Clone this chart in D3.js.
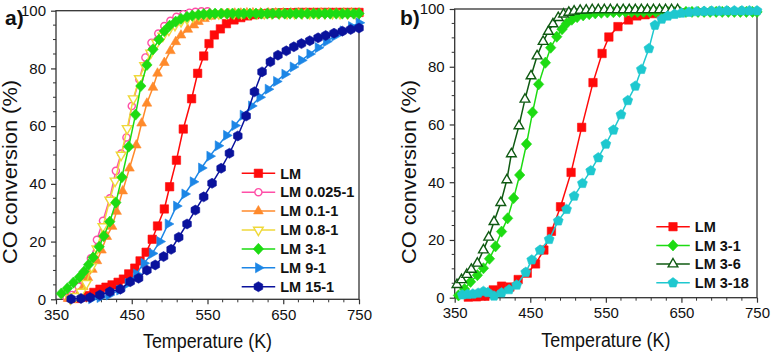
<!DOCTYPE html>
<html><head><meta charset="utf-8">
<script src="https://cdn.jsdelivr.net/npm/d3@7"></script>
<style>
body{margin:0;background:#fff}
svg{display:block}
text{font-family:"Liberation Sans",Arial,Helvetica,sans-serif;fill:#111}
</style>
</head><body>
<svg id="c" width="773" height="353"></svg>
<script>
// ---------- axis ticks ----------
const xTicks = [350, 450, 550, 650, 750];
const yTicks = [0, 20, 40, 60, 80, 100];

// ---------- panel a ----------
const lmA_T = [378,386,393,400,408,416,424,432,439,446,454,461,469,477,484,493,500,509,518,529,537,545,552,559,567,575,585,594,603,612,621,630,640,650,660,670,680,690,700,710,720,730,740,750];
const lmA_Y = [0.3,0.8,1.3,2.4,3.5,4.2,5.0,5.9,7.0,8.8,10.8,13.3,16.3,20.8,25.4,31.3,39.0,48.2,59.0,69.5,78.3,84.3,88.6,91.6,93.7,95.5,96.8,97.6,98.2,98.6,98.9,99.1,99.2,99.3,99.3,99.4,99.4,99.4,99.4,99.4,99.4,99.4,99.4,99.4];

const lm0025_T = [364,371,380,388,396,404,412,421,429,436,443,450,460,468,476,485,493,501,509,518,526,534,542,550];
const lm0025_Y = [0.5,1.5,4.4,8.4,14.2,20.6,27.2,35.0,44.5,50.5,56.1,67.0,76.2,83.8,88.9,92.1,94.7,96.5,97.9,98.8,99.3,99.6,99.8,99.8];

const lm01_T = [366,373,380,386,392,398,404,410,417,424,430,438,447,456,463,470,478,484,493,501,508,515,524,532,538,546,554,562,570,578,586,594,602,610,620,630,640,650,660,670,680,690,700,710,720,730,740,750];
const lm01_Y = [0.2,0.8,2.0,4.4,7.5,10.3,13.3,17.0,21.7,25.2,30.4,37.5,45.4,53.4,61.0,67.9,73.4,78.3,82.0,86.1,89.2,91.5,93.5,95.0,96.2,97.2,98.0,98.5,98.8,99.0,99.1,99.1,99.2,99.2,99.2,99.2,99.2,99.2,99.2,99.2,99.2,99.2,99.2,99.2,99.2,99.2,99.2,99.2];

const lm08_T = [369,376,383,390,397,404,412,421,428,436,444,452,460,467,475,483,491,499,507,515,523,531,539,547,555,565,575,585,595,605,615,625,635,645,655,665,675,685,695,705,715,725,735,745];
const lm08_Y = [0.2,1.0,2.5,5.5,11.3,17.5,25.2,34.4,41.0,50.0,59.2,69.5,76.5,81.0,85.3,88.8,91.2,93.3,95.0,96.3,97.2,97.9,98.4,98.7,98.9,99.0,99.1,99.1,99.1,99.1,99.1,99.1,99.1,99.1,99.1,99.1,99.1,99.1,99.1,99.1,99.1,99.1,99.1,99.1];

const lm31A_T = [357,365,373,381,387,393,399,407,413,421,429,437,446,455,462,470,478,486,493,500,508,515,523,530,538,545,553,560,568,576,583,591,598,606,614,621,629,636,644,652,659,667,674,682,690,697,705,712,720,728,735,743,750];
const lm31A_Y = [2.0,3.8,5.8,7.7,9.6,12.0,14.5,18.2,21.9,26.9,33.5,42.3,52.9,64.0,73.9,81.2,86.6,90.0,92.9,94.8,96.2,97.2,97.9,98.3,98.6,98.8,98.9,99.0,99.0,99.0,99.0,99.0,99.0,99.0,99.0,99.0,99.0,99.0,99.0,99.0,99.0,99.0,99.0,99.0,99.0,99.0,99.0,99.0,99.0,99.0,99.0,99.0,99.0];

const lm91_T = [397,408,420,434,445,456,466,477,487,498,509,520,531,542,553,564,575,586,597,608,619,630,641,652,663,674,685,696,707,718,729,740,750];
const lm91_Y = [0.2,0.6,1.5,3.2,5.5,8.8,12.5,15.9,20.0,26.1,32.3,36.5,40.7,45.5,49.6,53.2,56.8,60.2,63.8,67.0,70.0,72.8,75.5,78.0,80.5,82.8,85.0,87.2,89.3,91.2,93.0,94.5,95.8];

const lm151_T = [370,383,395,408,421,435,448,459,470,481,492,502,512,523,534,545,556,568,579,590,601,612,622,633,643,654,664,674,685,696,706,717,728,739,750];
const lm151_Y = [0.1,0.3,0.6,1.5,2.6,3.5,6.1,7.3,10.1,11.9,14.8,17.3,21.5,26.1,30.9,35.5,40.2,45.4,50.6,56.6,63.5,71.9,78.8,82.3,84.6,86.1,87.5,88.6,89.6,90.6,91.4,92.2,92.9,93.5,94.0];

// ---------- panel b ----------
const lmB_T = [368,379,390,401,412,423,434,446,457,468,478,490,504,518,533,545,554,566,580,591,602,613,625,637];
const lmB_Y = [0.2,0.3,0.5,2.7,4.0,3.7,6.3,8.5,11.7,16.5,23.0,31.5,43.4,59.0,74.5,84.6,90.3,93.9,96.2,97.6,98.0,98.4,98.7,99.0];

const lm31B_T = [355,363,371,380,388,396,404,412,420,428,436,445,453,461,470,477,485,492,498,505,512,520,528,536,544,552,560,568,576,584,592,600,608,616,624,632,640,648,656,664,672,680,688,696,704,712,720,728,736,744,750];
const lm31B_Y = [0.8,3.0,5.5,7.8,10.2,13.5,17.8,22.9,27.5,34.5,42.5,53.2,64.2,73.9,81.4,86.6,90.4,93.0,95.0,96.3,97.2,97.8,98.2,98.5,98.7,98.8,98.9,99.0,99.0,99.0,99.0,99.0,99.0,99.0,99.0,99.0,99.0,99.0,99.0,99.0,99.0,99.0,99.0,99.0,99.0,99.0,99.0,99.0,99.0,99.0,99.0];

const lm36_T = [353,359,366,372,380,388,395,402,411,419,425,435,443,451,459,467,474,480,487,494,501,508,516,524,532,540,548,556,565,573,581,589,597,605,613,621,629,637,645];
const lm36_Y = [4.5,6.2,8.0,9.8,11.9,16.5,20.9,26.3,32.9,40.8,49.8,59.5,68.7,76.8,83.7,88.7,92.2,94.8,97.0,98.2,98.8,99.2,99.5,99.6,99.7,99.7,99.7,99.7,99.7,99.7,99.7,99.7,99.7,99.7,99.7,99.7,99.7,99.7,99.7];

const lm318_T = [360,367,374,381,388,394,402,412,422,432,444,452,463,475,487,498,508,519,530,540,550,560,570,579,589,597,607,615,624,632,641,650,660,670,680,690,700,710,720,730,740,750];
const lm318_Y = [1.0,1.2,1.3,1.6,2.2,1.8,0.6,1.7,2.8,4.4,8.8,13.1,16.5,20.2,26.6,30.6,35.2,39.6,44.0,48.5,53.2,58.1,63.4,68.3,73.3,79.1,86.3,94.4,96.5,97.6,98.2,98.6,98.9,99.1,99.2,99.3,99.3,99.4,99.4,99.4,99.4,99.4];

// ---------- series definitions ----------
const seriesA = [
  {name:"LM",        T:lmA_T,   Y:lmA_Y,   color:"#ff0a0a", shape:"square",  open:false},
  {name:"LM 0.025-1",T:lm0025_T,Y:lm0025_Y,color:"#ff4fa7", shape:"circle",  open:true},
  {name:"LM 0.1-1",  T:lm01_T,  Y:lm01_Y,  color:"#ff8a2b", shape:"triUp",   open:false},
  {name:"LM 0.8-1",  T:lm08_T,  Y:lm08_Y,  color:"#efd93a", shape:"triDown", open:true},
  {name:"LM 3-1",    T:lm31A_T, Y:lm31A_Y, color:"#1ddb12", shape:"diamond", open:false},
  {name:"LM 9-1",    T:lm91_T,  Y:lm91_Y,  color:"#1c86e6", shape:"triRight",open:false},
  {name:"LM 15-1",   T:lm151_T, Y:lm151_Y, color:"#0a129c", shape:"hexagon", open:false}
];
const seriesB = [
  {name:"LM",      T:lmB_T,   Y:lmB_Y,   color:"#ff0a0a", shape:"square",  open:false},
  {name:"LM 3-1",  T:lm31B_T, Y:lm31B_Y, color:"#1ddb12", shape:"diamond", open:false},
  {name:"LM 3-6",  T:lm36_T,  Y:lm36_Y,  color:"#0f5a12", shape:"triUp",   open:true},
  {name:"LM 3-18", T:lm318_T, Y:lm318_Y, color:"#1ec8cf", shape:"pentagon",open:false}
];

// ---------- marker shapes ----------
function poly(r, angles){
  return "M" + angles.map(a => {
    const t = a * Math.PI / 180;
    return (r*Math.cos(t)).toFixed(2) + "," + (r*Math.sin(t)).toFixed(2);
  }).join("L") + "Z";
}
function shapePath(s){
  switch(s){
    case "square":  return "M-4.2,-4.2H4.2V4.2H-4.2Z";
    case "circle":  return d3.symbol(d3.symbolCircle, 40)();
    case "triUp":   return poly(5.6, [-90, 30, 150]);
    case "triDown": return poly(5.6, [90, 210, 330]);
    case "triRight":return poly(5.8, [0, 120, 240]);
    case "diamond": return "M0,-5.6L5.2,0L0,5.6L-5.2,0Z";
    case "hexagon": return poly(5.0, [30, 90, 150, 210, 270, 330]);
    case "pentagon":return poly(5.2, [-90, -18, 54, 126, 198]);
  }
}

const svg = d3.select("#c");

function panel(opt){
  const x = d3.scaleLinear().domain([350, 750]).range([opt.left, opt.right]);
  const y = d3.scaleLinear().domain([0, 100]).range([opt.bottom, opt.top]);
  const g = svg.append("g");

  // frame
  g.append("rect").attr("x", opt.left).attr("y", opt.top)
    .attr("width", opt.right - opt.left).attr("height", opt.bottom - opt.top)
    .attr("fill", "none").attr("stroke", "#333").attr("stroke-width", 1.3);

  // x axis
  const xMinor = d3.range(350, 751, 20).filter(v => (v - 350) % 100 !== 0);
  const xa = g.append("g").attr("transform", `translate(0,${opt.bottom})`)
    .call(d3.axisBottom(x).tickValues(xTicks).tickFormat(d3.format("d")).tickSize(5).tickPadding(5));
  xa.call(s => s.select(".domain").remove());
  xa.selectAll("line").attr("stroke", "#333").attr("stroke-width", 1.2);
  xa.selectAll("text").attr("font-size", 15).attr("fill", "#111")
    .style("font-family", '"Liberation Sans",Arial,sans-serif');
  g.append("g").selectAll("line").data(xMinor).join("line")
    .attr("x1", d => x(d)).attr("x2", d => x(d))
    .attr("y1", opt.bottom).attr("y2", opt.bottom + 3)
    .attr("stroke", "#333").attr("stroke-width", 1);

  // y axis
  const yMinor = d3.range(0, 101, 5).filter(v => v % 20 !== 0);
  const ya = g.append("g").attr("transform", `translate(${opt.left},0)`)
    .call(d3.axisLeft(y).tickValues(yTicks).tickFormat(d3.format("d")).tickSize(5).tickPadding(5));
  ya.call(s => s.select(".domain").remove());
  ya.selectAll("line").attr("stroke", "#333").attr("stroke-width", 1.2);
  ya.selectAll("text").attr("font-size", 15).attr("fill", "#111")
    .style("font-family", '"Liberation Sans",Arial,sans-serif');
  g.append("g").selectAll("line").data(yMinor).join("line")
    .attr("y1", d => y(d)).attr("y2", d => y(d))
    .attr("x1", opt.left).attr("x2", opt.left - 3)
    .attr("stroke", "#333").attr("stroke-width", 1);

  // axis titles
  g.append("text").attr("x", (opt.left + opt.right) / 2).attr("y", opt.bottom + 49)
    .attr("text-anchor", "middle").attr("font-size", 19.5)
    .attr("textLength", 129).attr("lengthAdjust", "spacingAndGlyphs")
    .text("Temperature (K)");
  g.append("text").attr("transform", `translate(${opt.left - 39},172) rotate(-90)`)
    .attr("text-anchor", "middle").attr("font-size", 20)
    .attr("textLength", 184).attr("lengthAdjust", "spacingAndGlyphs")
    .text("CO conversion (%)");

  // panel label
  g.append("text").attr("x", opt.labelX).attr("y", 25)
    .attr("font-size", 21).attr("font-weight", "bold").text(opt.label);

  // series
  const line = d3.line().x(d => x(d[0])).y(d => y(d[1]));
  opt.series.forEach(s => {
    const pts = d3.zip(s.T, s.Y);
    const sg = g.append("g");
    sg.append("path").attr("d", line(pts)).attr("fill", "none")
      .attr("stroke", s.color).attr("stroke-width", 1.5);
    sg.selectAll("path.m").data(pts).join("path").attr("class", "m")
      .attr("transform", d => `translate(${x(d[0])},${y(d[1])})`)
      .attr("d", shapePath(s.shape))
      .attr("fill", s.open ? "#fff" : s.color)
      .attr("stroke", s.color).attr("stroke-width", s.open ? 1.4 : 0.6);
  });

  // legend
  const lg = g.append("g");
  opt.series.forEach((s, i) => {
    const yy = opt.legY + i * opt.legStep;
    lg.append("line").attr("x1", opt.legX).attr("x2", opt.legX + 33.5)
      .attr("y1", yy).attr("y2", yy).attr("stroke", s.color).attr("stroke-width", 1.5);
    lg.append("path").attr("transform", `translate(${opt.legX + 16.7},${yy})`)
      .attr("d", shapePath(s.shape))
      .attr("fill", s.open ? "#fff" : s.color)
      .attr("stroke", s.color).attr("stroke-width", s.open ? 1.4 : 0.6);
    lg.append("text").attr("x", opt.legX + 38.5).attr("y", yy).attr("dy", "0.36em")
      .attr("font-size", 14.5).attr("font-weight", "bold").text(s.name);
  });
}

panel({left:56, right:359, top:10.7, bottom:299.3, label:"a)", labelX:5,
       series:seriesA, legX:241.7, legY:173.3, legStep:18.9});
panel({left:454.7, right:757, top:9, bottom:297.7, label:"b)", labelX:400,
       series:seriesB, legX:656.3, legY:226.7, legStep:18.7});
</script>
</body></html>
